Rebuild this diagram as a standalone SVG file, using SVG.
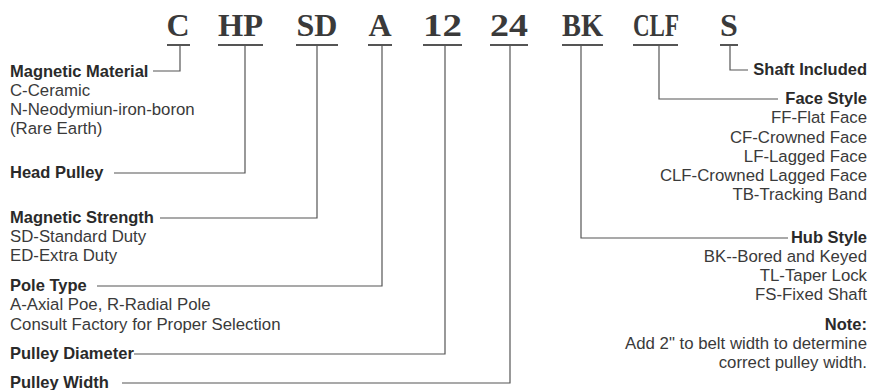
<svg xmlns="http://www.w3.org/2000/svg" width="872" height="390" viewBox="0 0 872 390">
<style>
.code{font-family:"Liberation Serif","Times New Roman",serif;font-weight:bold;font-size:32px;fill:#3a3a3a;text-anchor:middle}
.ul{stroke:#555;stroke-width:2;fill:none}
.ln{stroke:#555;stroke-width:1.2;fill:none}
.h{font-family:"Liberation Sans",Arial,sans-serif;font-weight:bold;font-size:16.5px;fill:#2a2a2a}
.t{font-family:"Liberation Sans",Arial,sans-serif;font-size:16.8px;fill:#3a3a3a}
.r{text-anchor:end}
</style>
<rect width="872" height="390" fill="#fff"/>
<g id="codes">
<text class="code" x="178" y="36">C</text>
<text class="code" x="240.5" y="36" textLength="45" lengthAdjust="spacingAndGlyphs">HP</text>
<text class="code" x="317" y="36" textLength="41" lengthAdjust="spacingAndGlyphs">SD</text>
<text class="code" x="380" y="36">A</text>
<text class="code" x="442.5" y="36" textLength="39" lengthAdjust="spacingAndGlyphs">12</text>
<text class="code" x="509" y="36" textLength="38" lengthAdjust="spacingAndGlyphs">24</text>
<text class="code" x="582.5" y="36" textLength="41" lengthAdjust="spacingAndGlyphs">BK</text>
<text class="code" x="656" y="36" textLength="46" lengthAdjust="spacingAndGlyphs">CLF</text>
<text class="code" x="729" y="36">S</text>
</g>
<g id="underlines">
<line class="ul" x1="167" y1="45" x2="190" y2="45"/>
<line class="ul" x1="218" y1="45" x2="263" y2="45"/>
<line class="ul" x1="296" y1="45" x2="338" y2="45"/>
<line class="ul" x1="368" y1="45" x2="392" y2="45"/>
<line class="ul" x1="423" y1="45" x2="462" y2="45"/>
<line class="ul" x1="490" y1="45" x2="528" y2="45"/>
<line class="ul" x1="562" y1="45" x2="603" y2="45"/>
<line class="ul" x1="633" y1="45" x2="678" y2="45"/>
<line class="ul" x1="720" y1="45" x2="738" y2="45"/>
</g>
<g id="connectors">
<polyline class="ln" points="180,45 180,71 153,71"/>
<polyline class="ln" points="245,45 245,173 114,173"/>
<polyline class="ln" points="317,45 317,218 160,218"/>
<polyline class="ln" points="382,45 382,286 97,286"/>
<polyline class="ln" points="445,45 445,354 134,354"/>
<polyline class="ln" points="510,45 510,383 122,383"/>
<polyline class="ln" points="581,45 581,238 788,238"/>
<polyline class="ln" points="659,45 659,99 778,99"/>
<polyline class="ln" points="730,45 730,70 748,70"/>
</g>
<g id="magnetic-material">
<text class="h" x="10" y="77">Magnetic Material</text>
<text class="t" x="10" y="96">C-Ceramic</text>
<text class="t" x="10" y="115">N-Neodymiun-iron-boron</text>
<text class="t" x="10" y="134">(Rare Earth)</text>
</g>
<g id="head-pulley">
<text class="h" x="10" y="178">Head Pulley</text>
</g>
<g id="magnetic-strength">
<text class="h" x="10" y="223">Magnetic Strength</text>
<text class="t" x="10" y="242">SD-Standard Duty</text>
<text class="t" x="10" y="261">ED-Extra Duty</text>
</g>
<g id="pole-type">
<text class="h" x="10" y="291">Pole Type</text>
<text class="t" x="10" y="310">A-Axial Poe, R-Radial Pole</text>
<text class="t" x="10" y="330">Consult Factory for Proper Selection</text>
</g>
<g id="pulley-diameter">
<text class="h" x="10" y="359">Pulley Diameter</text>
</g>
<g id="pulley-width">
<text class="h" x="10" y="388">Pulley Width</text>
</g>
<g id="shaft-included">
<text class="h r" x="867" y="75">Shaft Included</text>
</g>
<g id="face-style">
<text class="h r" x="867" y="104">Face Style</text>
<text class="t r" x="867" y="123">FF-Flat Face</text>
<text class="t r" x="867" y="143">CF-Crowned Face</text>
<text class="t r" x="867" y="162">LF-Lagged Face</text>
<text class="t r" x="867" y="181">CLF-Crowned Lagged Face</text>
<text class="t r" x="867" y="200">TB-Tracking Band</text>
</g>
<g id="hub-style">
<text class="h r" x="867" y="243">Hub Style</text>
<text class="t r" x="867" y="262">BK--Bored and Keyed</text>
<text class="t r" x="867" y="281">TL-Taper Lock</text>
<text class="t r" x="867" y="300">FS-Fixed Shaft</text>
</g>
<g id="note">
<text class="h r" x="867" y="330">Note:</text>
<text class="t r" x="867" y="349">Add 2" to belt width to determine</text>
<text class="t r" x="867" y="368">correct pulley width.</text>
</g>
</svg>
